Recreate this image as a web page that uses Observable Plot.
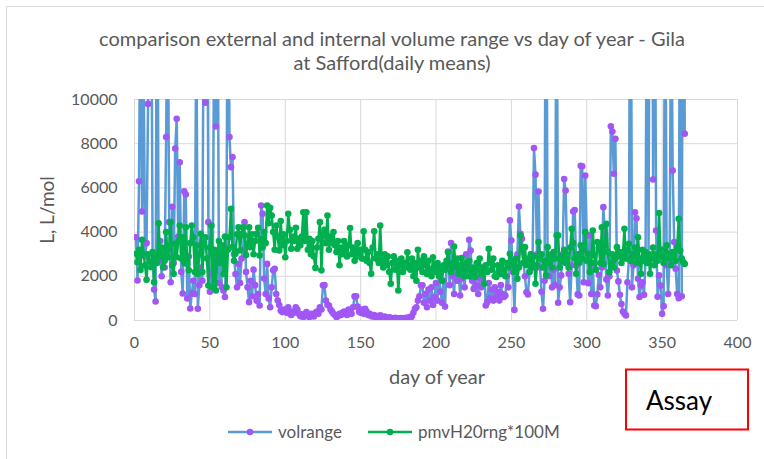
<!DOCTYPE html>
<html><head><meta charset="utf-8">
<script src="https://cdn.jsdelivr.net/npm/d3@7"></script>
<script src="https://cdn.jsdelivr.net/npm/@observablehq/plot@0.6"></script>
<style>
html,body{margin:0;padding:0;background:#fff;}
svg text{font-family:Lato, "Open Sans", sans-serif;}
</style>
</head><body><div id="chart"></div>
<script>
const titleLines = ["comparison external and internal volume range vs day of year - Gila", "at Safford(daily means)"];
const xLabel = "day of year";
const yLabel = "L, L/mol";
const seriesNames = ["volrange", "pmvH20rng*100M"];
const noteText = "Assay";
const xTicks = [0, 50, 100, 150, 200, 250, 300, 350, 400];
const yTicks = [0, 2000, 4000, 6000, 8000, 10000];
const days = d3.range(1, 366);

// volrange (values above 10000 run off the top of the axis)
const volrange = [
3770,1810,6300,16000,4930,12000,2900,3500,9800,25000,
18000,3000,1400,860,21000,2700,3600,2000,3100,2400,
8300,16000,4450,1730,5150,2600,7780,9130,3800,7160,
2200,1220,5850,5700,1000,2900,540,1220,1800,1200,
14000,530,1600,2400,1800,17000,9850,22000,4450,1300,
2100,3000,16000,8780,19000,1700,2800,1500,1360,1060,
3770,20000,8300,6940,7400,3000,2100,1500,2560,1700,
2800,3200,4450,2200,1500,830,1800,1100,2300,1600,
900,1200,680,5200,4830,1900,1200,2560,1000,600,
1500,2270,2340,1200,900,700,450,380,500,420,
350,600,300,250,400,350,600,500,300,200,
280,150,250,380,200,150,300,250,180,350,
400,300,600,500,1590,1600,900,700,680,500,
400,300,250,150,200,300,250,350,400,300,
250,500,400,300,600,1090,1100,630,400,350,
500,300,530,400,250,300,200,180,250,150,
200,120,230,150,100,180,120,90,150,120,
100,80,120,90,100,70,110,90,100,120,
80,150,80,200,350,530,600,900,1100,1590,
1590,800,1200,600,1400,900,1500,700,1060,1700,
900,2200,1300,800,1800,630,2500,3120,1600,3510,
2000,1200,2600,1800,2200,1130,1900,2400,1500,3000,
2000,3650,3170,1800,1430,2200,1600,1200,1900,1500,
2100,2400,680,830,1700,1000,1400,900,1500,1100,
1300,900,1600,1200,1060,1130,2000,1500,4530,3620,
2200,480,2400,3000,5160,3920,3700,2600,2000,1280,
1180,2200,3000,2400,7800,6600,3000,5840,2400,1300,
530,1800,22000,2600,2000,3000,1500,2300,1600,18000,
800,1500,2040,3000,6400,5880,2800,2110,830,2500,
4930,5000,2500,1180,1130,7000,6980,1730,6560,3850,
1690,3850,1200,2600,680,650,1180,2070,1500,2400,
5130,3920,1850,1130,2000,8790,8550,6640,8220,2260,
1770,1160,750,410,300,230,1730,2800,24000,1500,
2500,4900,4630,1890,1060,1580,1730,1160,2800,19000,
3000,26000,30000,6380,21000,4070,1070,2040,1580,300,
650,18000,2500,1200,3000,16000,6790,3550,2340,1200,
1010,20000,1100,25000,8450
];

// pmvH20rng*100M
const pmvH20rng = [
3020,2640,3200,2290,3650,3020,2500,1840,3000,2700,
2410,3100,1730,2960,2600,4400,2900,3300,2410,2700,
4000,2860,3300,4450,2500,2110,3470,2860,3600,4300,
2800,3770,2600,4220,2560,2270,3500,4300,3770,2190,
3400,2110,3000,3920,2190,3500,3770,2800,1580,3300,
4300,1500,3200,1360,3020,3600,2600,3400,2100,3800,
1500,3200,3770,5050,3320,2700,3020,3900,4220,3170,
3920,4220,3850,2960,3470,4220,3320,3900,3000,3600,
3920,4200,2940,3700,3300,4000,3500,5200,4400,5100,
4750,4000,3200,4300,3800,3170,4500,3400,3900,2860,
3600,4830,4100,3250,3800,3600,4200,3250,3700,3400,
3800,4900,3600,4900,3200,3700,3000,3600,2900,2380,
3300,3700,4450,2270,3900,4100,3500,4750,3200,3800,
3500,4000,3400,3100,3600,2500,3300,3000,3600,3200,
2900,3400,4180,3000,3300,2700,3100,3500,2900,3200,
2800,4040,3200,2700,3100,2600,2110,3300,4040,2800,
3000,2600,4300,2700,2400,3000,2500,2900,2200,1660,
2600,2900,2300,2700,1360,2500,2800,2200,2600,2400,
3090,2500,2300,2800,2000,2600,1800,3200,2400,2700,
2200,2900,2500,2100,2700,2300,2000,2860,2400,2200,
2600,2000,2400,1800,2500,2300,2700,3090,2500,2200,
2600,3350,2400,2800,2100,2500,2830,2300,2000,2600,
2300,2700,2000,2400,2200,1970,2600,2300,2800,2100,
2400,1660,2500,2200,3250,2600,2300,2800,2000,1970,
2500,2350,2100,2700,2300,2000,2600,2400,3020,2700,
2500,2200,2800,1890,2400,3850,3200,2600,3320,2500,
2800,2200,3000,2410,2900,1660,2500,3550,2800,3000,
2400,2700,2040,3320,2600,2900,2400,3100,2800,3850,
3850,2400,2900,2700,3200,2600,3000,2400,3300,4150,
3500,2800,2110,3000,2600,3400,2800,3200,4000,2700,
3020,2190,2600,4070,2940,2300,3550,3300,2600,4220,
2560,3400,4370,3100,2190,2600,3000,2400,2800,3320,
2900,3100,2600,3000,4150,2800,3200,3470,2700,3000,
2900,3300,2600,3770,2800,2110,3200,2700,3100,2600,
3000,2110,2800,3300,2500,3000,2700,4860,2860,3200,
2600,3100,3400,2800,3000,2500,3100,2900,2700,3300,
4600,3170,2800,2640,2560
];

const rows = days.map((d, i) => ({day: d, vol: volrange[i], pmv: pmvH20rng[i]}));
const blue = "#5b9bd5", purple = "#a057f5", green = "#00b050", grid = "#d9d9d9", textCol = "#595959";

const svg = Plot.plot({
  width: 764, height: 459,
  marginLeft: 134, marginRight: 27, marginTop: 99, marginBottom: 139,
  style: {fontFamily: "Lato, sans-serif", fontSize: "16px", color: textCol, background: "#fff", overflow: "visible"},
  x: {domain: [0, 400], label: null},
  y: {domain: [0, 10000], label: null},
  marks: [
    Plot.gridX(xTicks, {stroke: grid, strokeOpacity: 1, strokeWidth: 1}),
    Plot.gridY(yTicks, {stroke: grid, strokeOpacity: 1, strokeWidth: 1}),
    Plot.axisX(xTicks, {tickSize: 0, tickPadding: 16, fontSize: 16, label: null}),
    Plot.axisY(yTicks, {tickSize: 0, tickPadding: 17, fontSize: 16, label: null, tickFormat: d => String(d)}),
    Plot.lineY(rows, {x: "day", y: "vol", stroke: blue, strokeWidth: 2.5, clip: true}),
    Plot.dot(rows, {x: "day", y: "vol", r: 3.3, fill: purple, stroke: "none", clip: true}),
    Plot.lineY(rows, {x: "day", y: "pmv", stroke: green, strokeWidth: 2.5, clip: true}),
    Plot.dot(rows, {x: "day", y: "pmv", r: 3.3, fill: green, stroke: "none", clip: true})
  ]
});

const s = d3.select(svg);
// outer chart frame (top and left edges visible)
s.insert("path", ":first-child").attr("d", "M6.5,470V6.5H780").attr("fill", "none").attr("stroke", grid).attr("stroke-width", 1);

const ff = "Lato, sans-serif";
titleLines.forEach((t, i) => {
  s.append("text").attr("x", 392).attr("y", 46 + i * 24).attr("text-anchor", "middle")
    .attr("font-family", ff).attr("font-size", 20).attr("fill", textCol).text(t);
});
s.append("text").attr("x", 437).attr("y", 384).attr("text-anchor", "middle")
  .attr("font-family", ff).attr("font-size", 20).attr("fill", textCol).text(xLabel);
s.append("text").attr("transform", "translate(54,210) rotate(-90)").attr("text-anchor", "middle")
  .attr("font-family", ff).attr("font-size", 19).attr("fill", textCol).text(yLabel);

// legend
const leg = [{x: 228, line: blue, dot: purple, name: seriesNames[0]}, {x: 368, line: green, dot: green, name: seriesNames[1]}];
leg.forEach(l => {
  s.append("line").attr("x1", l.x).attr("x2", l.x + 44).attr("y1", 432).attr("y2", 432).attr("stroke", l.line).attr("stroke-width", 2.5);
  s.append("circle").attr("cx", l.x + 22).attr("cy", 432).attr("r", 3.3).attr("fill", l.dot);
  s.append("text").attr("x", l.x + 50).attr("y", 438).attr("text-anchor", "start").attr("font-family", ff).attr("font-size", 17).attr("fill", textCol).text(l.name);
});

// Assay box
s.append("rect").attr("x", 626).attr("y", 369.5).attr("width", 122).attr("height", 60).attr("fill", "#fff").attr("stroke", "#ff0000").attr("stroke-width", 2);
s.append("text").attr("x", 646).attr("y", 410).attr("text-anchor", "start").attr("font-family", ff).attr("font-size", 26).attr("fill", "#000").text(noteText);

document.getElementById("chart").appendChild(svg);
</script>
</body></html>
